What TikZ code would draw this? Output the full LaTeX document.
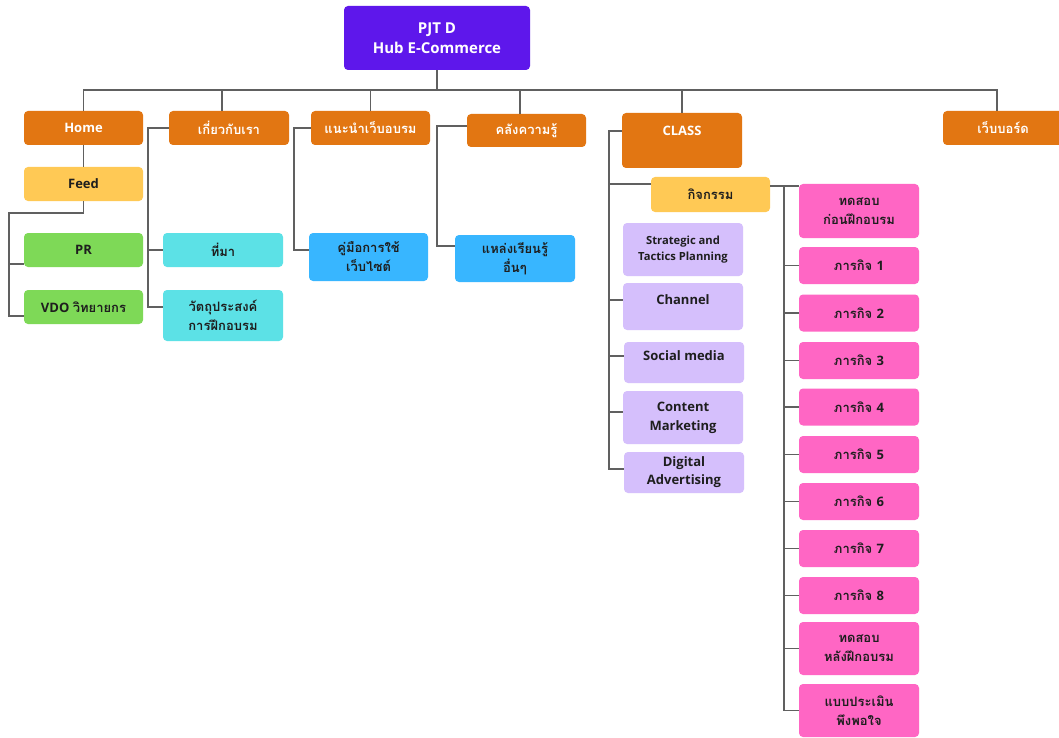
\documentclass[tikz,border=0pt]{standalone}
\usepackage{fontspec}
\setmainfont{Open Sans}
\newfontfamily\thaifont[Script=Thai]{Loma}
\newcommand\thaitxt[1]{{\thaifont\fontsize{13}{19}\selectfont #1}}

\definecolor{rootC}{HTML}{5E17EB}
\definecolor{orangeC}{HTML}{E27612}
\definecolor{yellowC}{HTML}{FFC955}
\definecolor{greenC}{HTML}{7ED957}
\definecolor{cyanC}{HTML}{5CE1E6}
\definecolor{blueC}{HTML}{38B6FF}
\definecolor{lilacC}{HTML}{D5BFFC}
\definecolor{pinkC}{HTML}{FF66C4}
\definecolor{inkC}{HTML}{1E1E1E}
\definecolor{wireC}{HTML}{606060}

\tikzset{
  box/.style={rounded corners=4pt, minimum width=119pt, minimum height=34pt,
    inner sep=2pt, align=center, text=inkC,
    font=\bfseries\fontsize{13}{19}\selectfont},
  thbox/.style={box, font=\thaifont\bfseries\fontsize{13}{19}\selectfont},
  head/.style={box, fill=orangeC, text=white},
  thhead/.style={thbox, fill=orangeC, text=white},
  lilac/.style={box, fill=lilacC, minimum width=120pt},
  pinkbox/.style={thbox, fill=pinkC, minimum width=120pt, minimum height=37pt},
  wire/.style={draw=wireC, line width=1.6pt},
}

\begin{document}
\begin{tikzpicture}[x=1pt,y=-1pt]
\useasboundingbox (0,0) rectangle (1059,738);
\fill[white] (0,0) rectangle (1059,738);

% ---------- boxes ----------
\node[box, fill=rootC, text=white, minimum width=186pt, minimum height=64pt,
      font=\bfseries\fontsize{15}{20}\selectfont] (root) at (437,38) {PJT D\\Hub E-Commerce};

\node[head]   (home)  at (83.5,128)  {Home};
\node[thhead, minimum width=120pt] (about) at (229,128)  {เกี่ยวกับเรา};
\node[thhead] (guide) at (370.5,128) {แนะนำเว็บอบรม};
\node[thhead, minimum height=33pt] (know) at (526.5,130.5) {คลังความรู้};
\node[head, minimum width=120pt, minimum height=55pt, text height=9pt, text depth=19pt]
      (class) at (682,140.5) {CLASS};
\node[thhead, minimum width=120pt] (web) at (1003,128) {เว็บบอร์ด};

% Home column
\node[box, fill=yellowC] (feed) at (83.5,184) {Feed};
\node[box, fill=greenC]  (pr)   at (83.5,250) {PR};
\node[box, fill=greenC]  (vdo)  at (83.5,307) {VDO \thaitxt{วิทยายกร}};

% about column
\node[thbox, fill=cyanC, minimum width=120pt] (origin) at (223,250) {ที่มา};
\node[thbox, fill=cyanC, minimum width=120pt, minimum height=51pt] (goal) at (223,315.5) {วัตถุประสงค์\\การฝึกอบรม};

% guide / knowledge columns
\node[thbox, fill=blueC, minimum height=48pt] (manual) at (368.5,257) {คู่มือการใช้\\เว็บไซต์};
\node[thbox, fill=blueC, minimum width=120pt, minimum height=47pt] (source) at (515,258.5) {แหล่งเรียนรู้\\อื่นๆ};

% class column
\node[thbox, fill=yellowC, minimum height=35pt] (activity) at (710.5,194.5) {กิจกรรม};
\node[lilac, minimum height=53pt, font=\bfseries\fontsize{11.2}{16}\selectfont]
      (strat) at (683,249.5) {Strategic and\\Tactics Planning};
\node[lilac, minimum height=47pt, text height=9pt, text depth=12.5pt] (channel) at (683,306.5) {Channel};
\node[lilac, minimum height=41pt, text height=9pt, text depth=12.5pt] (social) at (684,362.5) {Social media};
\node[lilac, minimum height=53pt] (content) at (683,417.5) {Content\\Marketing};
\node[lilac, minimum height=41pt, font=\bfseries\fontsize{13}{18}\selectfont] (digital) at (684,472.5) {Digital\\Advertising};

% activity tasks
\node[pinkbox, minimum height=54pt] (p0) at (859,211) {ทดสอบ\\ก่อนฝึกอบรม};
\node[pinkbox] (p1) at (859,265.5) {ภารกิจ {\fontspec{Open Sans}\bfseries 1}};
\node[pinkbox] (p2) at (859,313)   {ภารกิจ {\fontspec{Open Sans}\bfseries 2}};
\node[pinkbox] (p3) at (859,360.5) {ภารกิจ {\fontspec{Open Sans}\bfseries 3}};
\node[pinkbox] (p4) at (859,407)   {ภารกิจ {\fontspec{Open Sans}\bfseries 4}};
\node[pinkbox] (p5) at (859,454.5) {ภารกิจ {\fontspec{Open Sans}\bfseries 5}};
\node[pinkbox] (p6) at (859,501.5) {ภารกิจ {\fontspec{Open Sans}\bfseries 6}};
\node[pinkbox] (p7) at (859,548.5) {ภารกิจ {\fontspec{Open Sans}\bfseries 7}};
\node[pinkbox] (p8) at (859,595.5) {ภารกิจ {\fontspec{Open Sans}\bfseries 8}};
\node[pinkbox, minimum height=53pt] (p9)  at (859,648.5) {ทดสอบ\\หลังฝึกอบรม};
\node[pinkbox, minimum height=53pt] (p10) at (859,710.5) {แบบประเมิน\\พึงพอใจ};

% ---------- connectors ----------
% top bus
\draw[wire] (home.north) |- ([yshift=-20pt]root.south) -- (root.south);
\draw[wire] ([xshift=-7pt]about.north) |- ([yshift=-20pt]root.south);
\draw[wire] (guide.north) |- ([yshift=-20pt]root.south);
\draw[wire] ([xshift=-6.5pt]know.north) |- ([yshift=-20pt]root.south);
\draw[wire] (class.north) |- ([yshift=-20pt]root.south);
\draw[wire] ([xshift=-6pt]web.north) |- ([yshift=-20pt]root.south);

% Home
\draw[wire] (home.south) -- (feed.north);
\draw[wire] (feed.south) -- ++(0,12) -| ([xshift=-15pt,yshift=-9pt]vdo.west) -- ([yshift=-9pt]vdo.west);
\draw[wire] ([yshift=-14pt]pr.west) -- ++(-15,0);

% about
\draw[wire] (about.west) -- ++(-21,0) |- ([yshift=8.5pt]goal.west);
\draw[wire] (origin.west) -- ++(-15,0);

% guide
\draw[wire] (guide.west) -- ++(-17,0) |- ([yshift=7pt]manual.west);

% knowledge
\draw[wire] ([yshift=4.5pt]know.west) -- ++(-30,0) |- ([yshift=12.5pt]source.west);

% class
\draw[wire] ([yshift=9.5pt]class.west) -- ++(-13,0) |- ([yshift=3.5pt]digital.west);
\draw[wire] ([yshift=10.5pt]activity.west) -- ++(-42,0);
\draw[wire] ([yshift=6.5pt]channel.west) -- ++(-14,0);
\draw[wire] ([yshift=6.5pt]social.west) -- ++(-15,0);
\draw[wire] ([yshift=5.5pt]content.west) -- ++(-14,0);

% activity tasks
\draw[wire] ([yshift=8.5pt]activity.east) -- ([yshift=25pt]p0.west);
\draw[wire] ([yshift=8.5pt]activity.east) -- ++(14,0) |- (p10.west);
\foreach \p in {p1,p2,p3,p4,p5,p6,p7,p8,p9}
  \draw[wire] (\p.west) -- ++(-15,0);
\end{tikzpicture}
\end{document}
